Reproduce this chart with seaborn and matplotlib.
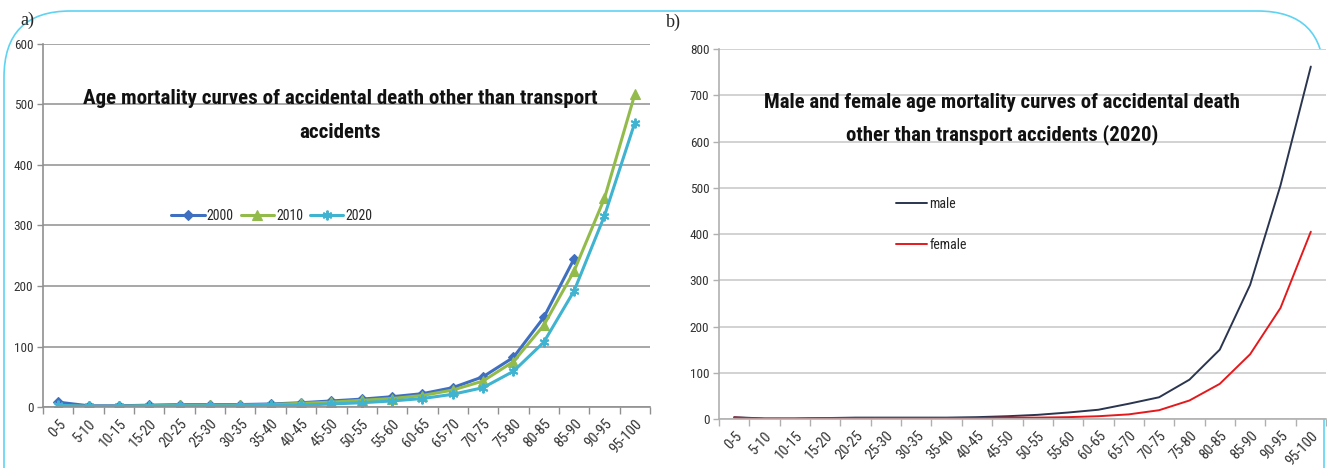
import numpy as np
import pandas as pd
import matplotlib
matplotlib.use("Agg")
import matplotlib.pyplot as plt
from matplotlib import font_manager
from matplotlib.patches import FancyBboxPatch
import seaborn as sns

age_groups = ["0-5", "5-10", "10-15", "15-20", "20-25", "25-30", "30-35", "35-40",
              "40-45", "45-50", "50-55", "55-60", "60-65", "65-70", "70-75", "75-80",
              "80-85", "85-90", "90-95", "95-100"]

rate_2000 = [8, 2, 2, 3, 4, 4, 4, 5, 7, 10, 13, 17, 22, 32, 50, 82, 148, 245, np.nan, np.nan]
rate_2010 = [2, 1, 1, 2, 3, 3, 3, 4, 6, 8, 11, 14, 19, 28, 43, 75, 135, 225, 345, 517]
rate_2020 = [3, 1, 1, 2, 2, 2, 2, 3, 3, 5, 7, 10, 14, 21, 32, 59, 107, 192, 316, 470]

male_2020 = [4, 1, 1, 2, 3, 3, 3, 3, 4, 6, 9, 14, 20, 33, 47, 85, 150, 290, 505, 762]
female_2020 = [3, 1, 1, 2, 2, 2, 2, 2, 2, 3, 3, 4, 6, 10, 19, 40, 76, 140, 240, 405]

sns.set_theme(style="white")

available = {f.name for f in font_manager.fontManager.ttflist}
narrow = next((f for f in ["Liberation Sans Narrow", "DejaVu Sans Condensed",
                           "Roboto Condensed", "Lato", "Roboto", "Open Sans"]
               if f in available), "DejaVu Sans")
serif = "Liberation Serif" if "Liberation Serif" in available else "DejaVu Serif"
plt.rcParams["font.family"] = [narrow, "DejaVu Sans"]

W, H = 1327, 468
fig = plt.figure(figsize=(W / 100, H / 100), dpi=100)
fig.patch.set_facecolor("white")

ax_a = fig.add_axes([43 / W, 1 - 407 / H, (650 - 43) / W, (407 - 44) / H])
ax_b = fig.add_axes([719 / W, 1 - 419 / H, (1326 - 719) / W, (419 - 49) / H])

pos = np.arange(len(age_groups))

# panel a: one line per year, each with its own marker
series_a = [("2000", rate_2000, "#3f6fc0", "D", 5.5, 0.8),
            ("2010", rate_2010, "#93bb4c", "^", 6.5, 0.8),
            ("2020", rate_2020, "#3fb3d0", (6, 2, 0), 7, 1.4)]
for label, values, color, marker, msize, mew in series_a:
    df = pd.DataFrame({"pos": pos, "rate": values}).dropna()
    sns.lineplot(data=df, x="pos", y="rate", color=color, marker=marker,
                 markersize=msize, markeredgewidth=mew, markeredgecolor=color,
                 linewidth=2.2, label=label, ax=ax_a)

# panel b: male and female lines
for label, values, color in [("male", male_2020, "#2a3550"),
                             ("female", female_2020, "#e5191c")]:
    df = pd.DataFrame({"pos": pos, "rate": values})
    sns.lineplot(data=df, x="pos", y="rate", color=color, linewidth=1.4,
                 label=label, ax=ax_b)


def style_axes(ax, ymax, grid_color, spine_color):
    ax.set_xlim(-0.5, len(age_groups) - 0.5)
    ax.set_ylim(0, ymax)
    ax.set_yticks(np.arange(0, ymax + 1, 100))
    ax.set_xticks(pos)
    ax.set_xticklabels(age_groups, rotation=47, ha="right", rotation_mode="anchor",
                       fontsize=10.5, color="#333333")
    ax.set_xticks(np.arange(-0.5, len(age_groups)), minor=True)
    ax.tick_params(axis="x", which="major", length=0, pad=7)
    ax.tick_params(axis="x", which="minor", length=5, color=spine_color, width=1,
                   direction="out", bottom=True)
    ax.tick_params(axis="y", length=4, color=spine_color, width=1, left=True,
                   labelsize=9.5, labelcolor="#333333", pad=3)
    ax.grid(axis="y", color=grid_color, linewidth=1.3)
    ax.set_axisbelow(True)
    for side in ["top", "right"]:
        ax.spines[side].set_visible(False)
    for side in ["left", "bottom"]:
        ax.spines[side].set_color(spine_color)
        ax.spines[side].set_linewidth(1.2)
    ax.set_xlabel("")
    ax.set_ylabel("")


style_axes(ax_a, 600, "#a0a0a0", "#909090")
style_axes(ax_b, 800, "#cfcfcf", "#b0b0b0")


def fitted_title(cx, base1, base2, first, second, width_px):
    # two centred heading lines; the first one is sized to span width_px pixels
    renderer = fig.canvas.get_renderer()
    probe = fig.text(0, 0, first, fontsize=15, fontweight="bold")
    w = probe.get_window_extent(renderer).width
    probe.remove()
    size = min(19, 15 * width_px / w)
    for text, base in [(first, base1), (second, base2)]:
        fig.text(cx / W, 1 - base / H, text, ha="center", va="baseline",
                 fontsize=size, fontweight="bold", color="#111111", zorder=5)


fitted_title(340, 104, 138, "Age mortality curves of accidental death other than transport",
             "accidents", 512)
fitted_title(1002, 108, 140, "Male and female age mortality curves of accidental death",
             "other than transport accidents (2020)", 476)

ax_a.legend(loc="center", bbox_to_anchor=(0.377, 0.526), ncol=3, frameon=False,
            fontsize=10, handlelength=2.4, handletextpad=0.15, columnspacing=0.5,
            borderpad=0)
ax_b.legend(loc="center", bbox_to_anchor=(0.35, 0.526), ncol=1, frameon=False,
            fontsize=10, handlelength=2.2, handletextpad=0.2, labelspacing=1.95,
            borderpad=0)

fig.text(20 / W, 1 - 20 / H, "a)", family=serif, fontsize=13, va="center")
fig.text(666 / W, 1 - 22 / H, "b)", family=serif, fontsize=13, va="center")

frame = FancyBboxPatch((4 / W, -0.2), (1324 - 4) / W, 1 - 11 / H + 0.2,
                       boxstyle="round,pad=0,rounding_size=0.05",
                       transform=fig.transFigure, facecolor="none",
                       edgecolor="#5ed3f2", linewidth=1.2, mutation_aspect=W / H,
                       clip_on=False, zorder=-1)
fig.patches.append(frame)

fig.savefig("out.png", dpi=100, facecolor="white")
